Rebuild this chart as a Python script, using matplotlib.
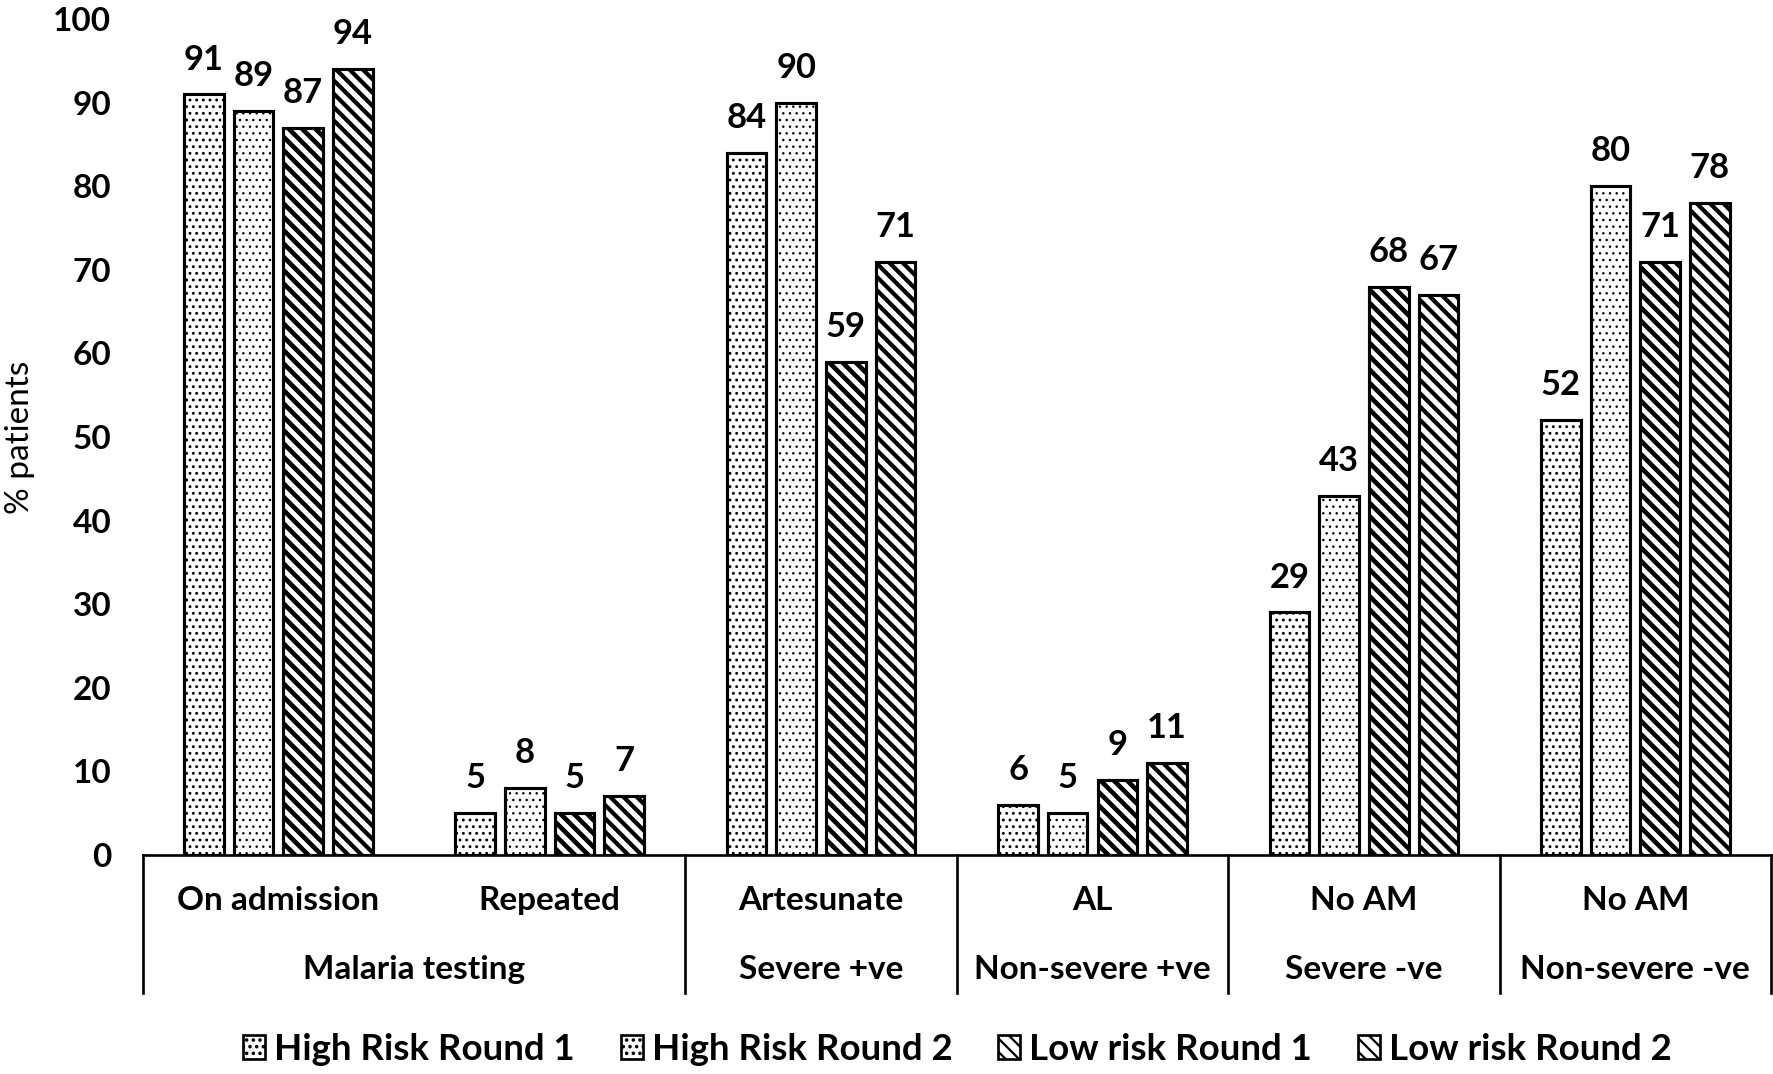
import matplotlib
matplotlib.use("Agg")
import matplotlib.pyplot as plt
from matplotlib.patches import Patch
import numpy as np

plt.rcParams["font.family"] = ["Lato", "DejaVu Sans"]

# categories (inner level) and their outer group
subcats = ["On admission", "Repeated", "Artesunate", "AL", "No AM", "No AM"]
groups = ["Malaria testing", "Severe +ve", "Non-severe +ve", "Severe -ve", "Non-severe -ve"]
group_spans = [(0, 2), (2, 3), (3, 4), (4, 5), (5, 6)]

series = ["High Risk Round 1", "High Risk Round 2", "Low risk Round 1", "Low risk Round 2"]
hr_round1 = [91, 5, 84, 6, 29, 52]
hr_round2 = [89, 8, 90, 5, 43, 80]
lr_round1 = [87, 5, 59, 9, 68, 71]
lr_round2 = [94, 7, 71, 11, 67, 78]
values = [hr_round1, hr_round2, lr_round1, lr_round2]

hatches = ["....", "....", "\\\\\\\\", "\\\\\\\\"]
hatch_lw = [0.7, 0.5, 2.1, 1.9]

FS = 15
FS_VAL = 15.5
FS_LEG = 16.5

fig = plt.figure(figsize=(1773 / 160, 1074 / 160), dpi=160)
ax = fig.add_axes([0.0804, 0.2041, 0.9185, 0.778])

x = np.arange(len(subcats)) + 0.5
step = 0.183
width = 0.146

for i, (name, vals) in enumerate(zip(series, values)):
    with plt.rc_context({"hatch.linewidth": hatch_lw[i]}):
        bars = ax.bar(x + (i - 1.5) * step, vals, width=width, color="white",
                      edgecolor="black", linewidth=1.4, hatch=hatches[i], label=name)
        for b in bars:
            if hasattr(b, "set_hatch_linewidth"):
                b.set_hatch_linewidth(hatch_lw[i])
    ax.bar_label(bars, padding=8.5, fontsize=FS_VAL, fontweight="bold", clip_on=False)

ax.set_xlim(0, 6)
ax.set_ylim(0, 100)
ax.set_yticks(np.arange(0, 101, 10))
ax.tick_params(axis="y", length=0, pad=14, labelsize=FS)
for t in ax.get_yticklabels():
    t.set_fontweight("bold")
ax.set_xticks([])
for s in ["top", "right", "left"]:
    ax.spines[s].set_visible(False)
ax.spines["bottom"].set_linewidth(1.2)
ax.set_ylabel("% patients", fontsize=FS, va="center")
ax.yaxis.set_label_coords(-0.075, 0.5)

# multi-level category axis
trans = ax.get_xaxis_transform()
for xi, lab in zip(x, subcats):
    ax.text(xi, -0.055, lab, transform=trans, ha="center", va="center",
            fontsize=FS, fontweight="bold")
for (a, b), lab in zip(group_spans, groups):
    ax.text((a + b) / 2, -0.1376, lab, transform=trans, ha="center", va="center",
            fontsize=FS, fontweight="bold")
for edge in [0, 2, 3, 4, 5, 6]:
    ax.plot([edge, edge], [0, -0.165], transform=trans, color="black",
            linewidth=1.2, clip_on=False)

handles = []
for i, name in enumerate(series):
    with plt.rc_context({"hatch.linewidth": hatch_lw[i] * 0.6}):
        h = Patch(facecolor="white", edgecolor="black", hatch=hatches[i], linewidth=1.2, label=name)
    handles.append(h)
fig.legend(handles=handles, loc="center", bbox_to_anchor=(0.54, 0.023), ncol=4,
           frameon=False, prop={"size": FS_LEG, "weight": "bold"},
           handlelength=0.6, handleheight=0.6, handletextpad=0.25, columnspacing=1.25)

fig.savefig("out.png", dpi=160)
